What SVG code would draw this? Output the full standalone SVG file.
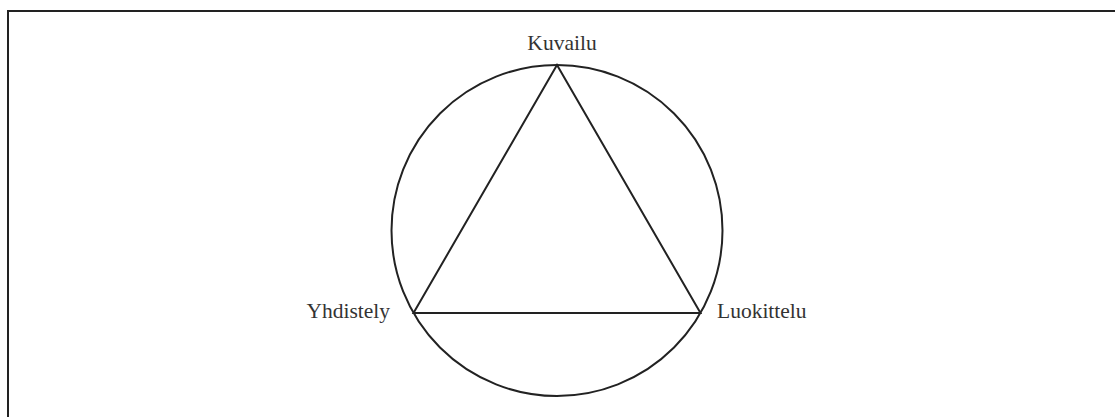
<svg xmlns="http://www.w3.org/2000/svg" width="1115" height="417" viewBox="0 0 1115 417">
<style>
.ln{fill:none;stroke:#222;stroke-width:2}
.lbl{font-family:"Liberation Serif",serif;font-size:21.5px;fill:#333}
</style>
<rect width="1115" height="417" fill="#fff"/>
<path class="ln" d="M8 417 V11 H1115" stroke-width="2.5"/>
<g id="connectors">
<circle class="ln" cx="557" cy="230.5" r="165.5"/>
<polygon class="ln" points="557,65 413.5,313 700.5,313"/>
</g>
<g id="kuvailu"><text class="lbl" x="562" y="50" text-anchor="middle">Kuvailu</text></g>
<g id="yhdistely"><text class="lbl" x="390" y="318" text-anchor="end">Yhdistely</text></g>
<g id="luokittelu"><text class="lbl" x="717" y="318">Luokittelu</text></g>
</svg>
